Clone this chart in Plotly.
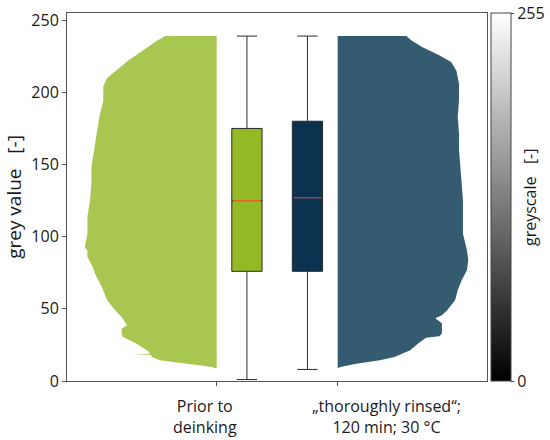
import plotly.graph_objects as go

# grey value distributions (normalised frequency)
prior_grey = [9, 9.7, 11, 12, 13.2, 14.3, 16.6, 18.2, 18.5, 18.8, 20.1, 25.9, 30.5, 33, 36.3,
              38.6, 44.4, 49, 56, 65, 74, 79, 86, 90, 93, 102, 114, 125, 137, 148, 160, 171,
              183, 194, 204, 210, 215, 222, 229, 236, 239]
prior_freq = [0.02, 0.03, 0.13, 0.21, 0.33, 0.43, 0.49, 0.50, 0.64, 0.51, 0.51, 0.61, 0.71, 0.72, 0.72,
              0.68, 0.72, 0.77, 0.83, 0.87, 0.92, 0.94, 0.98, 0.98, 1.00, 0.98, 0.98, 0.96, 0.95, 0.95, 0.93, 0.91,
              0.89, 0.86, 0.86, 0.83, 0.76, 0.67, 0.56, 0.45, 0.39]

rinsed_grey = [8.9, 9.7, 12, 14.3, 16.6, 21.3, 26, 30, 31, 33, 40, 43.4, 45.5, 49, 56, 62.9, 69.8,
               76.7, 83.6, 90.6, 102, 114, 125, 137, 148, 160, 171.5, 183, 194.5, 206, 215, 221,
               225.7, 231.5, 236, 239]
rinsed_freq = [0.0, 0.02, 0.14, 0.32, 0.43, 0.55, 0.61, 0.67, 0.77, 0.79, 0.79, 0.74, 0.79, 0.83, 0.89, 0.91, 0.94,
               0.98, 0.99, 0.98, 0.95, 0.95, 0.95, 0.94, 0.93, 0.92, 0.92, 0.91, 0.92, 0.92, 0.90, 0.86,
               0.77, 0.64, 0.56, 0.52]

# box plot statistics: lower whisker, q1, median, q3, upper whisker
prior_box = [1, 76, 125, 175, 239]
rinsed_box = [8, 76, 127, 180, 239]

labels = ["Prior to<br>deinking", "„thoroughly rinsed“;<br>120 min; 30 °C"]

FONT = "Open Sans"
half_width = 1.09   # violin max width in x units
box_w = 0.25

fig = go.Figure()

# half violins: prior extends to the left of x=0, rinsed to the right of x=1
for pos, side, grey, freq, color in [(0, -1, prior_grey, prior_freq, '#a9c750'),
                                     (1, 1, rinsed_grey, rinsed_freq, '#345b70')]:
    xs = [pos] + [pos + side * half_width * f for f in freq] + [pos]
    ys = [grey[0]] + grey + [grey[-1]]
    fig.add_trace(go.Scatter(x=xs, y=ys, fill='toself', fillcolor=color, mode='lines',
                             line=dict(width=0, color=color), showlegend=False, hoverinfo='skip'))

# boxes
for bx, stats, fill, med_col in [(0.25, prior_box, '#94b925', '#e0662c'),
                                 (0.75, rinsed_box, '#0b3350', '#8a4868')]:
    lo, q1, med, q3, hi = stats
    fig.add_trace(go.Box(x=[bx], lowerfence=[lo], q1=[q1], median=[med], q3=[q3], upperfence=[hi],
                         width=box_w, fillcolor=fill, line=dict(color='#2a2a2a', width=1),
                         whiskerwidth=0.67, showlegend=False, hoverinfo='skip'))
    fig.add_trace(go.Scatter(x=[bx - box_w / 2 + 0.01, bx + box_w / 2 - 0.01], y=[med, med], mode='lines',
                             line=dict(color=med_col, width=1.5), showlegend=False, hoverinfo='skip'))

# greyscale colour bar
fig.add_trace(go.Scatter(
    x=[None], y=[None], mode='markers', showlegend=False, hoverinfo='skip',
    marker=dict(color=[0], cmin=0, cmax=255, colorscale=[[0, 'black'], [1, 'white']], showscale=True,
                colorbar=dict(x=1.0095, xanchor='left', y=0.5, yanchor='middle', len=1, lenmode='fraction',
                              thickness=20, thicknessmode='pixels', xpad=0, ypad=0,
                              outlinewidth=1, outlinecolor='#444444',
                              tickvals=[0, 255], ticks='outside', ticklen=3, tickcolor='#444444',
                              tickfont=dict(family=FONT, size=16, color='#1a1a1a')))
))

for xpos, text in zip([-0.1, 1.4], labels):
    fig.add_annotation(x=xpos, y=0, xref='x', yref='paper', yanchor='top', xanchor='center', yshift=-12,
                       text=text, showarrow=False, font=dict(family=FONT, size=16, color='#1a1a1a'))

fig.add_annotation(x=1.1024, y=0.5, xref='paper', yref='paper', text="greyscale\u00a0\u00a0 [-]",
                   xanchor='center', yanchor='middle',
                   textangle=-90, showarrow=False, font=dict(family=FONT, size=16, color='#1a1a1a'))

fig.update_xaxes(range=[-1.237, 2.234], tickvals=[0, 1], ticktext=['', ''], ticks='outside', ticklen=4,
                 showline=True, mirror=True, linecolor='#555555', linewidth=1, showgrid=False, zeroline=False,
                 tickcolor='#555555')
fig.update_yaxes(range=[0, 255], tickvals=[0, 50, 100, 150, 200, 250], ticks='outside', ticklen=4,
                 showline=True, mirror=True, linecolor='#555555', linewidth=1, showgrid=False, zeroline=False,
                 tickcolor='#555555', title=dict(text="grey value\u00a0\u00a0 [-]", standoff=4),
                 tickfont=dict(family=FONT, size=16, color='#1a1a1a'))

fig.update_layout(
    width=550, height=440,
    margin=dict(l=67, r=63, t=13, b=59, autoexpand=False),
    plot_bgcolor='white', paper_bgcolor='white',
    font=dict(family=FONT, size=16, color='#1a1a1a'),
    showlegend=False,
)

# drop the browser's default body margin so the figure sits at the page corner
fig.write_html("out.html", config={'displayModeBar': False},
               post_script="document.body.style.margin = '0';")
